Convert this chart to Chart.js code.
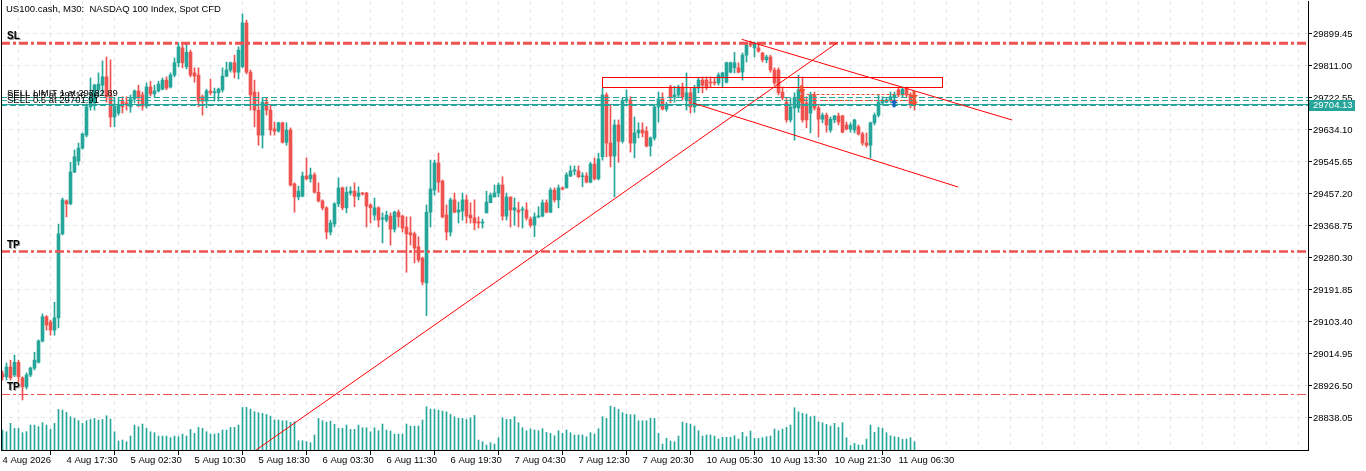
<!DOCTYPE html>
<html>
<head>
<meta charset="utf-8">
<title>US100.cash M30</title>
<script src="https://cdn.jsdelivr.net/npm/chart.js@4.4.1/dist/chart.umd.min.js"></script>
<style>
  html, body { margin: 0; padding: 0; background: #fff; overflow: hidden; }
  #wrap { width: 1366px; height: 471px; }
</style>
</head>
<body>
<div id="wrap"><canvas id="chart" width="1366" height="471"></canvas></div>
<script>
const chartTitle = 'US100.cash, M30:  NASDAQ 100 Index, Spot CFD';

// M30 bars, one entry per bar (index 0 = 4 Aug 09:30)
const openPrices = [
  28960,28952,28979,28957,28992,28949,28924,28957,28976,28992,29051,29118,29103,29081,29115,29347,29438,29430,29518,29548,
  29584,29620,29698,29709,29745,29758,29781,29728,29670,29681,29714,29709,29698,29720,29742,29731,29700,29753,29734,29742,
  29747,29772,29753,29786,29820,29861,29809,29849,29792,29786,29726,29714,29742,29737,29737,29745,29783,29800,29820,29794,
  29809,29930,29794,29739,29689,29620,29711,29689,29637,29631,29654,29600,29634,29485,29449,29451,29507,29499,29510,29462,
  29438,29419,29352,29374,29430,29474,29419,29460,29465,29451,29460,29460,29427,29399,29419,29388,29385,29396,29360,29407,
  29396,29366,29350,29347,29311,29280,29211,29407,29468,29543,29493,29399,29352,29441,29407,29410,29441,29399,29391,29380,
  29377,29405,29433,29449,29460,29482,29396,29449,29413,29413,29413,29413,29388,29371,29394,29396,29433,29407,29468,29441,
  29474,29474,29507,29521,29521,29505,29507,29490,29540,29499,29560,29731,29598,29562,29648,29603,29717,29717,29598,29626,
  29634,29631,29590,29612,29698,29720,29692,29753,29726,29731,29753,29717,29737,29698,29750,29772,29772,29766,29766,29764,
  29778,29766,29794,29806,29806,29794,29841,29875,29861,29861,29847,29828,29836,29800,29800,29739,29711,29662,29695,29695,
  29745,29709,29681,29731,29695,29664,29675,29634,29662,29673,29673,29648,29637,29634,29643,29623,29598,29592,29654,29675,
  29709,29711,29717,29723,29745,29731,29747,29731,29717
];
const highPrices = [
  28968,28990,28998,29012,28998,28952,28963,28979,29020,29054,29126,29121,29109,29158,29374,29446,29441,29545,29579,29598,
  29626,29706,29778,29761,29792,29825,29836,29828,29723,29723,29726,29726,29731,29745,29758,29739,29764,29769,29758,29769,
  29778,29781,29792,29833,29875,29869,29875,29855,29806,29806,29731,29747,29775,29750,29750,29806,29822,29822,29841,29864,
  29955,29938,29800,29772,29739,29723,29723,29703,29656,29656,29656,29654,29640,29488,29479,29518,29557,29529,29516,29488,
  29441,29422,29385,29433,29502,29477,29477,29477,29488,29477,29462,29462,29430,29446,29422,29405,29410,29405,29410,29413,
  29399,29394,29394,29352,29339,29283,29427,29551,29551,29570,29496,29427,29446,29460,29435,29460,29454,29433,29441,29394,
  29388,29465,29460,29482,29488,29505,29460,29449,29446,29435,29422,29433,29394,29405,29422,29441,29441,29474,29474,29482,
  29477,29516,29535,29535,29535,29516,29516,29545,29557,29570,29750,29737,29703,29662,29662,29723,29745,29726,29670,29654,
  29654,29643,29615,29703,29739,29737,29711,29758,29755,29758,29764,29792,29750,29758,29778,29781,29781,29781,29778,29792,
  29794,29822,29822,29849,29820,29847,29877,29880,29877,29869,29849,29841,29841,29806,29806,29753,29723,29723,29737,29786,
  29781,29726,29739,29739,29703,29681,29681,29670,29675,29681,29675,29656,29654,29664,29648,29628,29626,29656,29681,29731,
  29726,29723,29739,29739,29750,29753,29753,29737,29726
];
const lowPrices = [
  28943,28943,28943,28952,28937,28888,28918,28952,28971,28990,29048,29081,29067,29067,29087,29344,29394,29427,29516,29537,
  29581,29615,29689,29689,29726,29731,29711,29643,29643,29675,29681,29689,29683,29709,29698,29689,29695,29728,29726,29739,
  29745,29745,29750,29781,29809,29806,29803,29781,29766,29698,29675,29695,29731,29714,29714,29739,29781,29794,29778,29775,
  29806,29789,29689,29643,29592,29584,29675,29620,29620,29628,29598,29592,29479,29407,29441,29449,29496,29490,29460,29435,
  29413,29333,29344,29366,29422,29413,29405,29454,29422,29441,29454,29366,29377,29385,29366,29322,29380,29316,29352,29366,
  29352,29241,29316,29267,29269,29206,29121,29366,29454,29462,29391,29330,29341,29405,29377,29385,29377,29377,29358,29363,
  29363,29405,29433,29449,29449,29385,29385,29366,29371,29366,29363,29385,29366,29339,29391,29394,29405,29405,29435,29419,
  29468,29474,29505,29510,29502,29477,29488,29488,29496,29496,29551,29560,29532,29449,29545,29598,29709,29573,29557,29612,
  29615,29587,29562,29606,29656,29689,29686,29709,29711,29726,29717,29689,29681,29683,29737,29737,29745,29753,29758,29758,
  29753,29764,29792,29792,29792,29772,29822,29864,29836,29849,29822,29820,29794,29758,29731,29717,29656,29656,29606,29683,
  29656,29640,29626,29689,29615,29654,29628,29628,29654,29648,29626,29634,29628,29626,29620,29592,29587,29557,29648,29670,
  29703,29709,29711,29717,29726,29726,29726,29695,29689
];
const closePrices = [
  28952,28979,28949,28992,28952,28924,28957,28976,28998,29051,29118,29095,29081,29115,29347,29441,29430,29518,29560,29584,
  29623,29698,29726,29758,29761,29781,29726,29670,29700,29703,29698,29706,29720,29742,29723,29700,29753,29734,29742,29761,
  29772,29750,29786,29820,29864,29820,29849,29786,29783,29714,29714,29742,29737,29739,29747,29783,29800,29820,29794,29855,
  29930,29794,29731,29689,29620,29711,29689,29634,29631,29654,29600,29634,29482,29449,29465,29507,29499,29510,29462,29438,
  29419,29352,29377,29430,29474,29419,29462,29465,29451,29460,29457,29424,29419,29419,29385,29389,29399,29360,29407,29394,
  29363,29347,29344,29308,29275,29214,29407,29471,29543,29490,29394,29352,29441,29407,29413,29441,29396,29391,29377,29377,
  29380,29435,29454,29460,29482,29396,29449,29413,29419,29407,29414,29391,29371,29394,29396,29433,29407,29468,29441,29474,
  29471,29510,29521,29522,29505,29507,29490,29540,29499,29554,29731,29598,29562,29648,29603,29716,29718,29598,29626,29634,
  29626,29590,29612,29698,29720,29692,29703,29726,29731,29753,29726,29737,29698,29750,29772,29758,29753,29764,29764,29786,
  29792,29820,29820,29820,29794,29841,29869,29869,29875,29852,29828,29836,29800,29764,29737,29723,29662,29698,29723,29745,
  29662,29662,29731,29695,29664,29675,29648,29664,29673,29656,29628,29637,29648,29662,29623,29598,29592,29654,29675,29711,
  29717,29717,29726,29731,29731,29747,29731,29703,29704
];
const tickVolumes = [
  600,550,800,650,650,520,550,750,750,700,820,750,620,800,1220,1200,1130,1000,950,880,
  800,880,920,950,900,920,1030,930,550,270,300,250,420,750,700,780,650,550,520,420,
  420,420,370,420,400,480,420,620,500,680,650,550,480,480,500,600,600,680,680,750,
  1280,1280,1230,1150,1120,1100,1070,1020,900,900,880,880,830,850,280,280,250,220,450,950,
  880,840,870,770,650,650,750,620,620,750,670,670,550,670,580,780,600,570,480,480,
  480,780,720,720,720,900,1300,1230,1230,1200,1170,1150,1070,1000,950,950,920,970,1040,300,
  250,150,220,180,370,970,920,920,1000,820,670,580,630,600,580,640,530,500,430,580,
  500,600,520,450,450,450,400,520,480,640,1000,950,1320,1280,1220,1120,1080,1060,1060,880,
  880,880,950,950,500,180,350,270,250,420,840,800,780,720,580,420,450,450,420,330,
  380,380,380,430,330,530,400,570,350,350,370,400,420,630,580,630,680,750,1270,1150,
  1100,1080,1000,1020,850,820,770,720,800,680,820,370,130,200,150,150,330,750,530,680,
  650,520,430,400,380,320,330,370,250
];

// axis labels
const timeLabelBars = [0, 16, 32, 48, 64, 80, 96, 112, 128, 144, 160, 176, 192, 208, 224];
const timeLabels = ['4 Aug 2026', '4 Aug 17:30', '5 Aug 02:30', '5 Aug 10:30', '5 Aug 18:30', '6 Aug 03:30',
  '6 Aug 11:30', '6 Aug 19:30', '7 Aug 04:30', '7 Aug 12:30', '7 Aug 20:30', '10 Aug 05:30',
  '10 Aug 13:30', '10 Aug 21:30', '11 Aug 06:30'];
const priceTicks = [28838.05, 28926.50, 29014.95, 29103.40, 29191.85, 29280.30, 29368.75,
  29457.20, 29545.65, 29634.10, 29722.55, 29811.00, 29899.45];

// stop / take levels
const levelNames = ['SL', 'TP', 'TP'];
const levelPrices = [29874, 29298, 28904];

// pending order and position lines
const orderTexts = ['SELL LIMIT 1 at 29722.89', 'SELL 0.5 at 29716.90', 'SELL 0.5 at 29701.91'];
const orderPrices = [29722.89, 29716.90, 29701.91];
const bidPrice = 29704.13;

// drawn objects: trend lines, zone, deals
const trendStartBar = [63.4, 184.8, 172.6];
const trendStartPrice = [28749.6, 29884.8, 29708.7];
const trendEndBar = [208.5, 252.4, 238.9];
const trendEndPrice = [29873.7, 29661.7, 29476.5];
const zoneBars = [149.9, 234.9];
const zonePrices = [29779.7, 29752.1];
const sellDealBars = [199.8, 199.8, 227.9, 227.9];
const sellDealPrices = [29747, 29720, 29731, 29712];
const buyDealBars = [222.9];
const buyDealPrices = [29708];
const dealLineStartBar = [201.0, 204.4];
const dealLineStartPrice = [29731, 29716];
const dealLineEndBar = [227.3, 226.9];
const dealLineEndPrice = [29731, 29716];

const X_MIN = -0.375;
const X_MAX = 326.375;
const Y_MIN = 28749.60;
const Y_MAX = 29990.66;
const VOL_MAX = 13500;

const UP = '#26a69a';
const DOWN = '#ef5350';
const LEVEL_RED = '#f05252';
const OBJ_RED = '#ff0000';
const TEAL = '#26a69a';
const GRID = '#e6e6ea';
const FONT = 'Liberation Sans, Arial, sans-serif';

Chart.defaults.font.family = FONT;
Chart.defaults.font.size = 9.5;
Chart.defaults.color = '#000';

const bars = openPrices.map((_, i) => i);
const candleColors = bars.map(i => closePrices[i] >= openPrices[i] ? UP : DOWN);

function crisp(v) {
  return Math.round(v - 0.5) + 0.5;
}

function drawArrow(ctx, x, y, down, color) {
  const d = down ? 1 : -1;
  ctx.fillStyle = color;
  ctx.beginPath();
  ctx.moveTo(x - 1.5, y - 4 * d);
  ctx.lineTo(x + 1.5, y - 4 * d);
  ctx.lineTo(x + 1.5, y);
  ctx.lineTo(x + 4, y);
  ctx.lineTo(x, y + 4 * d);
  ctx.lineTo(x - 4, y);
  ctx.lineTo(x - 1.5, y);
  ctx.closePath();
  ctx.fill();
}

const objectsPlugin = {
  id: 'mtObjects',
  afterDatasetsDraw(chart) {
    const { ctx, chartArea: a, scales: { x, y } } = chart;
    const px = v => x.getPixelForValue(v);
    const py = v => y.getPixelForValue(v);

    ctx.save();
    ctx.beginPath();
    ctx.rect(a.left, a.top, a.right - a.left, a.bottom - a.top);
    ctx.clip();

    // SL / TP levels
    levelPrices.forEach((p, k) => {
      const yy = py(p);
      ctx.strokeStyle = LEVEL_RED;
      ctx.lineWidth = k === 2 ? 1 : (k === 0 ? 3 : 2.5);
      ctx.setLineDash([9, 3, 3, 3]);
      ctx.beginPath();
      ctx.moveTo(a.left, k === 2 ? crisp(yy) : yy);
      ctx.lineTo(a.right, k === 2 ? crisp(yy) : yy);
      ctx.stroke();
      ctx.setLineDash([]);
      ctx.font = 'bold 10px ' + FONT;
      ctx.textAlign = 'left';
      ctx.textBaseline = 'alphabetic';
      ctx.fillStyle = '#9a9a9a';
      ctx.fillText(levelNames[k], 8, yy - 3);
      ctx.fillStyle = '#000';
      ctx.fillText(levelNames[k], 7, yy - 4);
    });

    // order lines
    ctx.lineWidth = 1;
    ctx.strokeStyle = TEAL;
    orderPrices.forEach((p) => {
      ctx.setLineDash([6, 3]);
      ctx.beginPath();
      ctx.moveTo(a.left, crisp(py(p)));
      ctx.lineTo(a.right, crisp(py(p)));
      ctx.stroke();
    });
    ctx.setLineDash([]);
    ctx.beginPath();
    ctx.moveTo(a.left, crisp(py(bidPrice)));
    ctx.lineTo(a.right, crisp(py(bidPrice)));
    ctx.stroke();

    ctx.font = '9.5px ' + FONT;
    ctx.fillStyle = '#000';
    ctx.textBaseline = 'alphabetic';
    orderTexts.forEach((t, k) => {
      ctx.fillText(t, 7, py(orderPrices[k]) - 2);
    });

    // zone rectangle
    ctx.strokeStyle = OBJ_RED;
    ctx.lineWidth = 1;
    ctx.strokeRect(crisp(px(zoneBars[0])), crisp(py(zonePrices[0])),
      Math.round(px(zoneBars[1]) - px(zoneBars[0])), Math.round(py(zonePrices[1]) - py(zonePrices[0])));

    // trend lines
    trendStartBar.forEach((b, k) => {
      ctx.beginPath();
      ctx.moveTo(px(b), py(trendStartPrice[k]));
      ctx.lineTo(px(trendEndBar[k]), py(trendEndPrice[k]));
      ctx.stroke();
    });

    // deal history
    ctx.strokeStyle = '#f0502d';
    ctx.setLineDash([3, 2]);
    dealLineStartBar.forEach((b, k) => {
      ctx.beginPath();
      ctx.moveTo(px(b), crisp(py(dealLineStartPrice[k])));
      ctx.lineTo(px(dealLineEndBar[k]), crisp(py(dealLineEndPrice[k])));
      ctx.stroke();
    });
    ctx.setLineDash([]);
    sellDealBars.forEach((b, k) => drawArrow(ctx, px(b), py(sellDealPrices[k]), true, '#f0502d'));
    buyDealBars.forEach((b, k) => drawArrow(ctx, px(b), py(buyDealPrices[k]), false, '#1565c0'));

    ctx.restore();

    // left frame
    ctx.save();
    ctx.strokeStyle = '#000';
    ctx.lineWidth = 1;
    ctx.beginPath();
    ctx.moveTo(1.5, 0);
    ctx.lineTo(1.5, a.bottom);
    ctx.stroke();

    // bid label on the price scale
    const by = py(bidPrice);
    ctx.fillStyle = TEAL;
    ctx.fillRect(a.right + 1, Math.round(by) - 5, 46, 11);
    ctx.fillStyle = '#fff';
    ctx.font = '9.5px ' + FONT;
    ctx.textBaseline = 'middle';
    ctx.textAlign = 'left';
    ctx.fillText(bidPrice.toFixed(2), a.right + 5, Math.round(by) + 0.5);

    // title
    ctx.fillStyle = '#000';
    ctx.textBaseline = 'middle';
    ctx.fillText(chartTitle, 6, 9.5);
    ctx.restore();
  }
};

const gridBars = [];
for (let b = 0; b <= 320; b += 8) gridBars.push(b);

new Chart(document.getElementById('chart'), {
  type: 'bar',
  data: {
    datasets: [
      {
        label: 'Volume',
        data: bars.map(i => ({ x: i, y: tickVolumes[i] })),
        yAxisID: 'vol',
        backgroundColor: TEAL,
        barThickness: 1,
        grouped: false,
        order: 3
      },
      {
        label: 'Range',
        data: bars.map(i => ({ x: i, y: [lowPrices[i], highPrices[i]] })),
        yAxisID: 'y',
        backgroundColor: candleColors,
        barThickness: 1,
        grouped: false,
        order: 2
      },
      {
        label: 'Body',
        data: bars.map(i => ({ x: i, y: [openPrices[i], closePrices[i]] })),
        yAxisID: 'y',
        backgroundColor: candleColors,
        barThickness: 3,
        minBarLength: 1,
        grouped: false,
        order: 1
      }
    ]
  },
  options: {
    responsive: false,
    animation: false,
    devicePixelRatio: 1,
    layout: { padding: { left: 1, top: 1, right: 0, bottom: 0 } },
    plugins: { legend: { display: false }, tooltip: { enabled: false } },
    scales: {
      x: {
        type: 'linear',
        min: X_MIN,
        max: X_MAX,
        offset: false,
        afterBuildTicks: s => { s.ticks = gridBars.map(v => ({ value: v })); },
        afterFit: s => { s.height = 21; s.paddingLeft = 0; s.paddingRight = 0; },
        ticks: {
          autoSkip: false,
          maxRotation: 0,
          minRotation: 0,
          align: 'start',
          padding: 0,
          color: '#000',
          callback: v => {
            const k = timeLabelBars.indexOf(v);
            return k >= 0 ? timeLabels[k] : '';
          }
        },
        grid: {
          color: GRID,
          tickLength: 5,
          tickColor: c => (c.tick && timeLabelBars.includes(c.tick.value)) ? '#000' : 'rgba(0,0,0,0)',
          tickBorderDash: []
        },
        border: { display: true, color: '#000', width: 1, dash: [4, 4] }
      },
      y: {
        type: 'linear',
        position: 'right',
        min: Y_MIN,
        max: Y_MAX,
        afterBuildTicks: s => { s.ticks = priceTicks.map(v => ({ value: v })); },
        afterFit: s => { s.width = 58; s.paddingTop = 0; s.paddingBottom = 0; },
        ticks: {
          autoSkip: false,
          padding: 1,
          color: '#000',
          callback: v => v.toFixed(2)
        },
        grid: { color: GRID, tickLength: 4, tickColor: '#000', tickBorderDash: [] },
        border: { display: true, color: '#000', width: 1, dash: [4, 4] }
      },
      vol: {
        type: 'linear',
        display: false,
        min: 0,
        max: VOL_MAX
      }
    }
  },
  plugins: [objectsPlugin]
});
</script>
</body>
</html>
